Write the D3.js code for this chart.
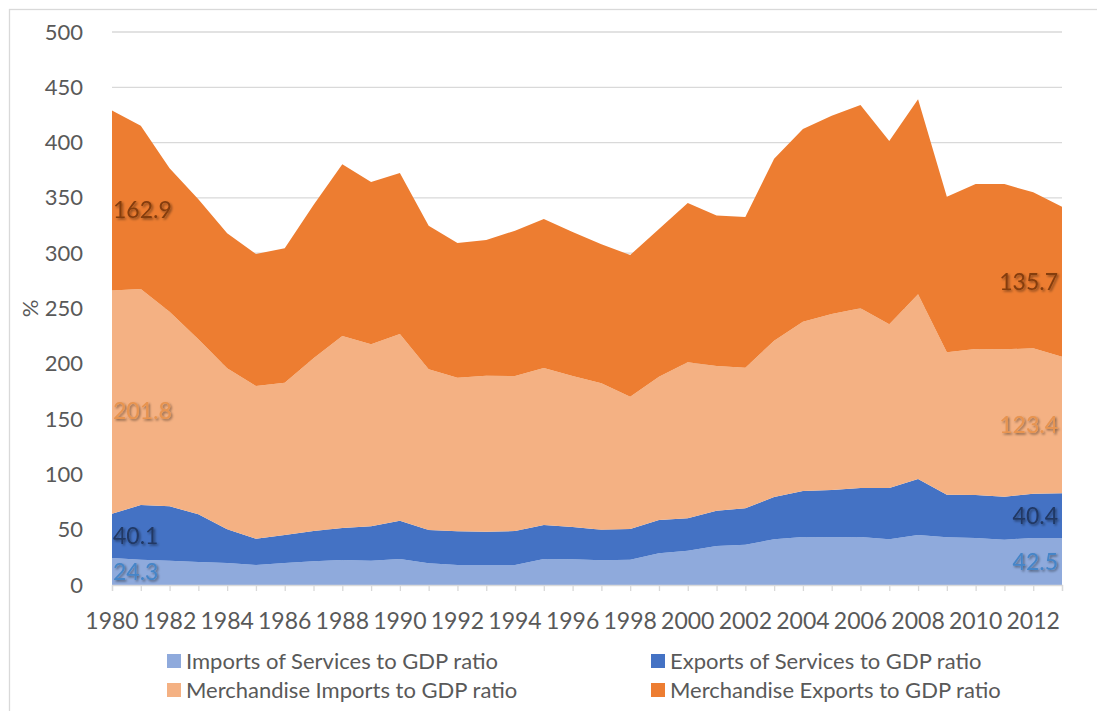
<!DOCTYPE html>
<html>
<head>
<meta charset="utf-8">
<script src="https://cdn.jsdelivr.net/npm/d3@7"></script>
<style>
  html, body { margin: 0; padding: 0; background: #ffffff; }
  svg { display: block; font-family: Lato, "Open Sans", sans-serif; }
</style>
</head>
<body>
<svg id="chart" width="1097" height="711"></svg>
<script>
// Trade-to-GDP ratios (%), 1980–2013
const years = d3.range(1980, 2014);

const importsServices = [
  24.3, 22.9, 22.0, 20.8, 19.9, 18.1, 19.9, 21.4, 22.6, 22.0,
  23.5, 19.6, 18.1, 18.1, 18.1, 23.6, 23.2, 22.3, 22.9, 28.7,
  31.0, 35.3, 36.4, 41.3, 43.4, 43.1, 43.4, 41.3, 45.2, 43.1,
  42.5, 41.0, 42.5, 42.5
];
const exportsServices = [
  40.1, 49.4, 49.2, 43.1, 30.5, 23.8, 25.3, 27.4, 28.9, 31.1,
  34.6, 30.1, 30.4, 30.1, 30.7, 30.6, 29.2, 27.7, 27.7, 30.1,
  29.3, 31.9, 32.9, 38.3, 41.6, 42.8, 44.3, 46.4, 50.6, 38.5,
  38.9, 38.8, 40.1, 40.4
];
const merchImports = [
  201.8, 195.3, 175.9, 158.3, 145.5, 138.0, 137.7, 156.2, 173.6, 164.5,
  168.8, 145.3, 138.9, 141.0, 140.2, 142.0, 136.6, 132.4, 119.7, 129.5,
  141.0, 130.8, 127.2, 141.3, 153.1, 159.1, 162.5, 148.0, 167.0, 128.8,
  132.0, 133.3, 131.4, 123.4
];
const merchExports = [
  162.9, 147.7, 129.6, 126.5, 122.1, 119.4, 121.5, 138.6, 155.3, 146.8,
  145.6, 129.9, 121.8, 122.7, 131.3, 134.7, 130.2, 125.6, 128.1, 133.6,
  144.1, 136.0, 136.2, 164.5, 174.2, 179.3, 183.8, 165.7, 176.3, 140.6,
  149.1, 149.4, 141.0, 135.7
];

const seriesNames = [
  "Imports of Services to GDP ratio",
  "Exports of Services to GDP ratio",
  "Merchandise Imports to GDP ratio",
  "Merchandise Exports to GDP ratio"
];
const seriesKeys = ["impSvc", "expSvc", "impMerch", "expMerch"];
const seriesColors = ["#8faadc", "#4472c4", "#f4b183", "#ed7d31"];
const labelColors = ["#4585c8", "#203864", "#e8944f", "#843c0c"];

const yTicks = [0, 50, 100, 150, 200, 250, 300, 350, 400, 450, 500];
const xTickLabels = d3.range(1980, 2013, 2);

// Assemble rows for the stack layout
const rows = years.map((yr, i) => ({
  year: yr,
  impSvc: importsServices[i],
  expSvc: exportsServices[i],
  impMerch: merchImports[i],
  expMerch: merchExports[i]
}));

const svg = d3.select("#chart");

const x = d3.scaleLinear().domain([1980, 2013]).range([112, 1062]);
const y = d3.scaleLinear().domain([0, 500]).range([585, 32]);

// Outer chart border
svg.append("rect")
  .attr("x", 9.5).attr("y", 9.5)
  .attr("width", 1100).attr("height", 720)
  .attr("fill", "none").attr("stroke", "#d9d9d9").attr("stroke-width", 1.3);

// Drop shadow for value labels
const defs = svg.append("defs");
const shadow = defs.append("filter").attr("id", "lblShadow")
  .attr("x", "-20%").attr("y", "-30%").attr("width", "150%").attr("height", "170%");
shadow.append("feDropShadow")
  .attr("dx", 1.5).attr("dy", 1.5).attr("stdDeviation", 1.2)
  .attr("flood-color", "#000").attr("flood-opacity", 0.45);

// Horizontal gridlines
svg.append("g").selectAll("line")
  .data(yTicks.filter(d => d > 0))
  .join("line")
  .attr("x1", x(1980)).attr("x2", x(2013))
  .attr("y1", d => y(d)).attr("y2", d => y(d))
  .attr("stroke", "#d9d9d9").attr("stroke-width", 1.3);

// Stacked areas
const stack = d3.stack().keys(seriesKeys);
const layers = stack(rows);

const area = d3.area()
  .x(d => x(d.data.year))
  .y0(d => y(d[0]))
  .y1(d => y(d[1]))
  .curve(d3.curveLinear);

svg.append("g").selectAll("path")
  .data(layers)
  .join("path")
  .attr("d", area)
  .attr("fill", (d, i) => seriesColors[i]);

// X axis baseline and year ticks
const xAxis = d3.axisBottom(x)
  .tickValues(years)
  .tickSize(6)
  .tickFormat("");
const gx = svg.append("g").attr("transform", `translate(0,${y(0)})`).call(xAxis);
gx.select(".domain").attr("stroke", "#d9d9d9").attr("stroke-width", 1.3);
gx.selectAll(".tick line").attr("stroke", "#d9d9d9").attr("stroke-width", 1.3);

svg.append("g").selectAll("text")
  .data(xTickLabels)
  .join("text")
  .attr("x", d => x(d))
  .attr("y", 629)
  .attr("text-anchor", "middle")
  .attr("fill", "#595959")
  .attr("font-size", 23)
  .text(d => d);

// Y axis labels
const yAxis = d3.axisLeft(y).tickValues(yTicks).tickSize(0).tickPadding(0);
const gy = svg.append("g").attr("transform", "translate(83,0)").call(yAxis);
gy.select(".domain").remove();
gy.selectAll("text")
  .attr("fill", "#595959")
  .attr("font-size", 22)
  .attr("font-family", "Lato, 'Open Sans', sans-serif");

svg.append("text")
  .attr("transform", `translate(38,${y(250)}) rotate(-90)`)
  .attr("text-anchor", "middle")
  .attr("fill", "#595959")
  .attr("font-size", 22)
  .text("%");

// Value labels at the first and last year of each series
const labelDy = [0, 0, 9, 9];
const firstIdx = 0, lastIdx = years.length - 1;
layers.forEach((layer, i) => {
  const a = layer[firstIdx], b = layer[lastIdx];
  const seriesVals = [importsServices, exportsServices, merchImports, merchExports][i];
  svg.append("text")
    .attr("x", x(years[firstIdx]) + 1)
    .attr("y", y((a[0] + a[1]) / 2) + labelDy[i])
    .attr("dy", "0.36em")
    .attr("text-anchor", "start")
    .attr("fill", labelColors[i])
    .attr("font-size", 23)
    .attr("filter", "url(#lblShadow)")
    .text(seriesVals[firstIdx].toFixed(1));
  svg.append("text")
    .attr("x", x(years[lastIdx]) - 4)
    .attr("y", y((b[0] + b[1]) / 2))
    .attr("dy", "0.36em")
    .attr("text-anchor", "end")
    .attr("fill", labelColors[i])
    .attr("font-size", 23)
    .attr("filter", "url(#lblShadow)")
    .text(seriesVals[lastIdx].toFixed(1));
});

// Legend (2 x 2)
const legendPos = [
  { x: 167, y: 661 }, { x: 651, y: 661 },
  { x: 167, y: 690 }, { x: 651, y: 690 }
];
const lg = svg.append("g").selectAll("g")
  .data(seriesNames)
  .join("g")
  .attr("transform", (d, i) => `translate(${legendPos[i].x},${legendPos[i].y})`);
lg.append("rect")
  .attr("x", 0).attr("y", -7)
  .attr("width", 14).attr("height", 14)
  .attr("fill", (d, i) => seriesColors[i]);
lg.append("text")
  .attr("x", 19)
  .attr("dy", "0.36em")
  .attr("fill", "#595959")
  .attr("font-size", 22)
  .text(d => d);
</script>
</body>
</html>
